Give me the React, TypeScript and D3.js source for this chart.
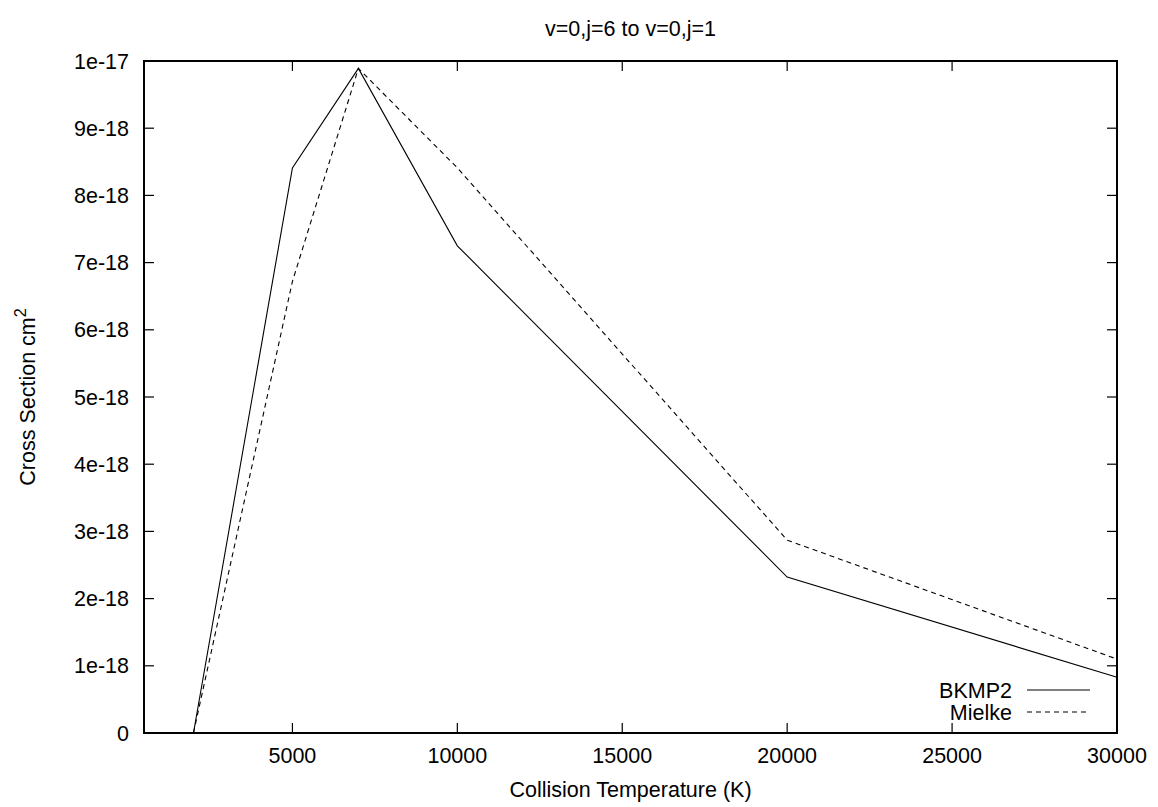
import React from "react";
import * as d3 from "d3";

const temperatures = [2000, 5000, 7000, 10000, 20000, 30000];
const bkmp2 = [0, 8.41e-18, 9.89e-18, 7.25e-18, 2.32e-18, 0.83e-18];
const mielke = [0, 6.72e-18, 9.89e-18, 8.41e-18, 2.87e-18, 1.1e-18];
const xTicks = [5000, 10000, 15000, 20000, 25000, 30000];
const yTicks = [0, 1e-18, 2e-18, 3e-18, 4e-18, 5e-18, 6e-18, 7e-18, 8e-18, 9e-18, 1e-17];
const yTickLabels = ["0", "1e-18", "2e-18", "3e-18", "4e-18", "5e-18", "6e-18", "7e-18", "8e-18", "9e-18", "1e-17"];
const seriesNames = ["BKMP2", "Mielke"];

const W = 1158, H = 807;
const L = 144, R = 1117, T = 61, B = 733;
const FONT = "'Liberation Sans', Arial, sans-serif";
const FS = 21.5;

export default function App() {
  const x = d3.scaleLinear().domain([500, 30000]).range([L, R]);
  const y = d3.scaleLinear().domain([0, 1e-17]).range([B, T]);
  const line = d3.line<number>().x((_, i) => x(temperatures[i])).y((d) => y(d));
  const tick = 10;
  return (
    <svg width={W} height={H} style={{ position: "absolute", left: 0, top: 0, background: "#fff" }}
      fontFamily={FONT} fontSize={FS}>
      <rect x={0} y={0} width={W} height={H} fill="#fff" />
      {/* data */}
      <path d={line(bkmp2) || ""} fill="none" stroke="#000" strokeWidth={1.1} />
      <path d={line(mielke) || ""} fill="none" stroke="#000" strokeWidth={1.1} strokeDasharray="5,4" />
      {/* ticks */}
      {xTicks.map((t) => (
        <g key={"x" + t}>
          <line x1={x(t)} x2={x(t)} y1={B} y2={B - tick} stroke="#000" strokeWidth={1.2} />
          <line x1={x(t)} x2={x(t)} y1={T} y2={T + tick} stroke="#000" strokeWidth={1.2} />
          <text x={x(t)} y={763} textAnchor="middle" fill="#000">{t}</text>
        </g>
      ))}
      {yTicks.map((t, i) => (
        <g key={"y" + i}>
          <line x1={L} x2={L + tick} y1={y(t)} y2={y(t)} stroke="#000" strokeWidth={1.2} />
          <line x1={R} x2={R - tick} y1={y(t)} y2={y(t)} stroke="#000" strokeWidth={1.2} />
          <text x={129} y={y(t)} dy="0.35em" textAnchor="end" fill="#000">{yTickLabels[i]}</text>
        </g>
      ))}
      {/* frame */}
      <rect x={L} y={T} width={R - L} height={B - T} fill="none" stroke="#000" strokeWidth={2} />
      {/* title & labels */}
      <text x={(L + R) / 2} y={36} textAnchor="middle" fill="#000">v=0,j=6 to v=0,j=1</text>
      <text x={(L + R) / 2} y={797} textAnchor="middle" fill="#000">Collision Temperature (K)</text>
      <text transform={`translate(35,${(T + B) / 2}) rotate(-90)`} textAnchor="middle" fill="#000">
        Cross Section cm<tspan fontSize={FS * 0.75} dy={-9}>2</tspan>
      </text>
      {/* legend */}
      {seriesNames.map((n, i) => (
        <g key={n}>
          <text x={1012} y={690 + i * 22} dy="0.35em" textAnchor="end" fill="#000">{n}</text>
          <line x1={1027} x2={1090} y1={690 + i * 22} y2={690 + i * 22} stroke="#000" strokeWidth={1.1}
            strokeDasharray={i === 1 ? "5,4" : undefined} />
        </g>
      ))}
    </svg>
  );
}
